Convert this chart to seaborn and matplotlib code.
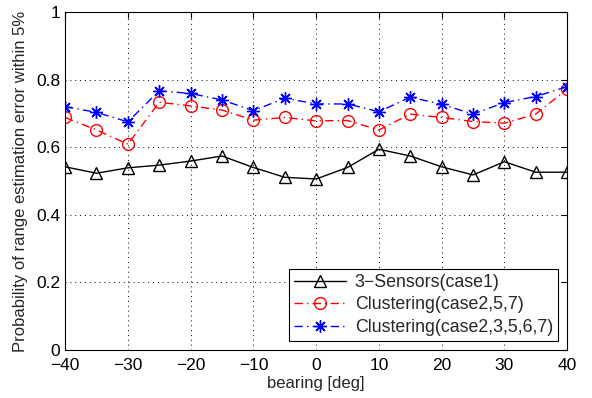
import pandas as pd
import matplotlib
matplotlib.use("Agg")
import matplotlib.pyplot as plt
import seaborn as sns

bearing = [-40, -35, -30, -25, -20, -15, -10, -5, 0, 5, 10, 15, 20, 25, 30, 35, 40]
sensors3 = [0.542, 0.523, 0.539, 0.547, 0.559, 0.574, 0.540, 0.511, 0.506, 0.540,
            0.594, 0.574, 0.542, 0.518, 0.557, 0.526, 0.526]
clust257 = [0.688, 0.651, 0.609, 0.733, 0.722, 0.710, 0.680, 0.688, 0.678, 0.679,
            0.651, 0.698, 0.688, 0.676, 0.671, 0.698, 0.772]
clust23567 = [0.720, 0.703, 0.675, 0.767, 0.759, 0.740, 0.708, 0.745, 0.728, 0.728,
              0.705, 0.748, 0.727, 0.698, 0.732, 0.750, 0.779]

labels = ["3\u2212Sensors(case1)", "Clustering(case2,5,7)", "Clustering(case2,3,5,6,7)"]
xticks = [-40, -30, -20, -10, 0, 10, 20, 30, 40]
yticks = [0, 0.2, 0.4, 0.6, 0.8, 1]


def main():
    sns.set_style("white")
    plt.rcParams['font.family'] = ['Liberation Sans', 'DejaVu Sans']
    plt.rcParams['font.size'] = 12.5

    fig = plt.figure(figsize=(5.92, 3.98), dpi=100)
    ax = fig.add_axes([0.110, 0.1206, 0.848, 0.8492])

    df = pd.DataFrame({'bearing': bearing, labels[0]: sensors3,
                       labels[1]: clust257, labels[2]: clust23567})
    styles = [
        dict(color='black', linestyle='-', marker='^', markersize=8),
        dict(color='red', linestyle=(0, (6, 3, 1, 3)), marker='o', markersize=8.5),
        dict(color='blue', linestyle=(0, (6, 3, 1, 3)), marker=(8, 2, 0), markersize=9),
    ]
    for lab, st in zip(labels, styles):
        sns.lineplot(data=df, x='bearing', y=lab, ax=ax, label=lab,
                     linewidth=1.0, markerfacecolor='none',
                     markeredgecolor=st['color'], markeredgewidth=1.0,
                     **st)

    ax.set_xlim(-40, 40)
    ax.set_ylim(0, 1)
    ax.set_xticks(xticks)
    ax.set_yticks(yticks)
    ax.set_yticklabels(['0', '0.2', '0.4', '0.6', '0.8', '1'])
    ax.set_xticklabels([str(t).replace('-', '\u2212') for t in xticks])
    ax.grid(True, color='black', linestyle=(0, (1, 4)), linewidth=0.7)
    ax.tick_params(direction='in', length=4, top=True, right=True, colors='black')
    ax.tick_params(axis='x', pad=6)
    for sp in ax.spines.values():
        sp.set_color('black')
        sp.set_linewidth(0.8)
    ax.set_xlabel('bearing [deg]', labelpad=2, fontsize=12)
    ax.set_ylabel('Probability of range estimation error within 5%', labelpad=6, fontsize=12)

    leg = ax.legend(loc='lower right', fancybox=False, framealpha=1,
                    edgecolor='black', borderaxespad=0.5, handlelength=2.9,
                    labelspacing=0.3, borderpad=0.3, handletextpad=0.5,
                    fontsize=12.8)
    leg.get_frame().set_linewidth(0.8)

    fig.savefig('out.png', dpi=100)


if __name__ == "__main__":
    main()
